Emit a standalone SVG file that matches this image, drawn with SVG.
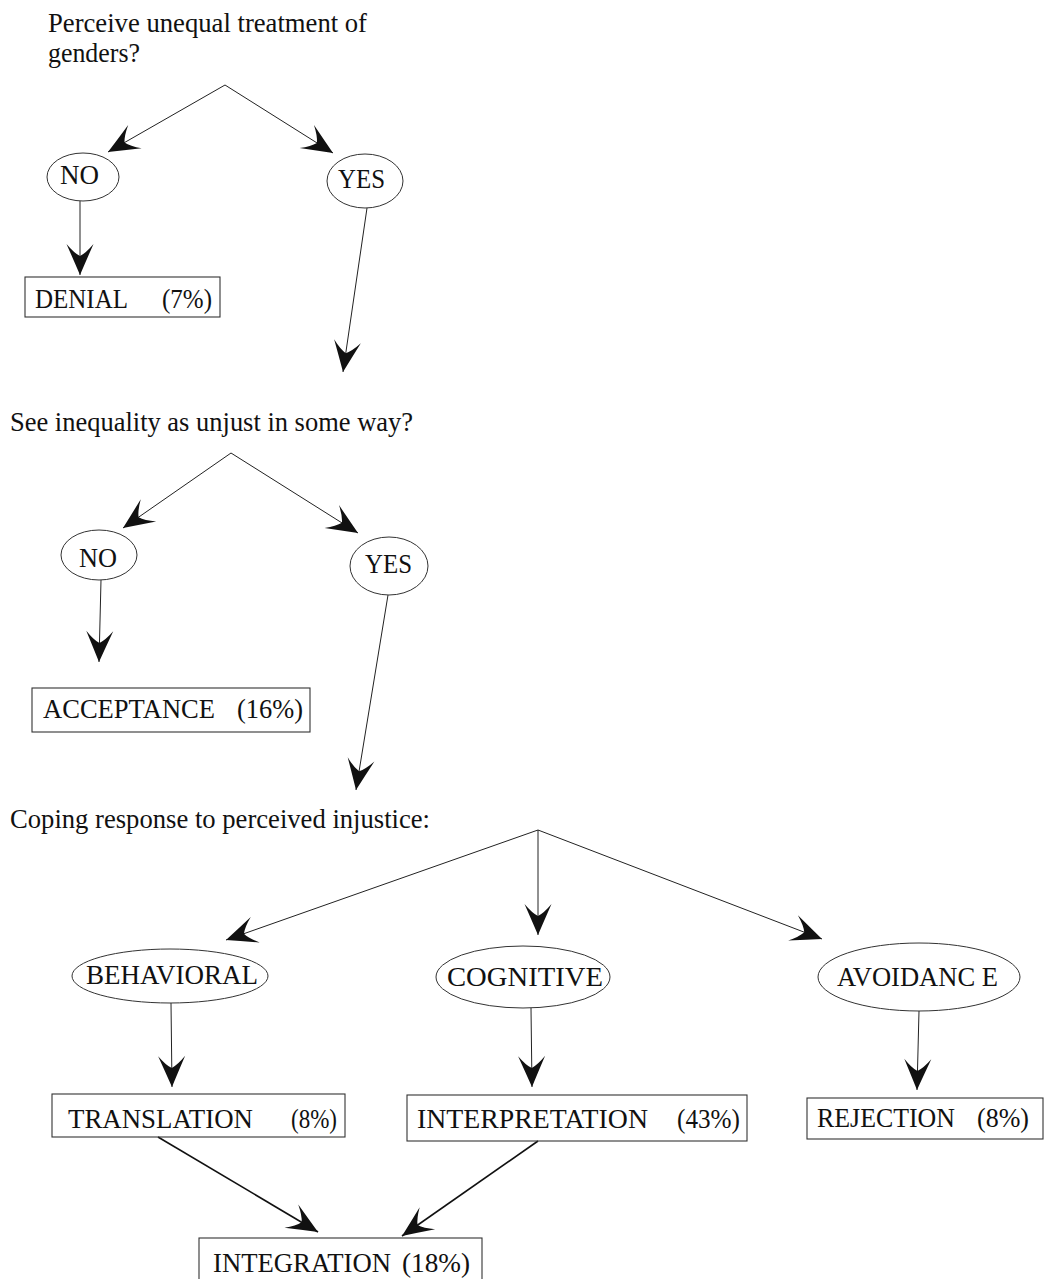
<svg xmlns="http://www.w3.org/2000/svg" width="1047" height="1279" viewBox="0 0 1047 1279">
<style>
text{font-family:"Liberation Serif","Times New Roman",serif;fill:#111;}
.t{font-size:26.5px;}
.n{font-size:27px;}
.el{fill:none;stroke:#333;stroke-width:1;}
.bx{fill:none;stroke:#333;stroke-width:1.1;}
.c{stroke:#222;stroke-width:1;fill:none;marker-end:url(#ah);}
.c2{stroke:#111;stroke-width:1.6;fill:none;marker-end:url(#ah);}
</style>
<defs>
<marker id="ah" markerUnits="userSpaceOnUse" viewBox="-33 -15 35 30" markerWidth="35" markerHeight="30" refX="0" refY="0" orient="auto" overflow="visible">
<path d="M0,0 Q-14,-6 -31,-13.5 Q-22,-6 -19,0 Q-22,6 -31,13.5 Q-14,6 0,0 Z" fill="#111"/>
</marker>
</defs>
<rect width="1047" height="1279" fill="#fff"/>
<g id="questions">
<text class="t" x="48" y="32" textLength="319" lengthAdjust="spacingAndGlyphs">Perceive unequal treatment of</text>
<text class="t" x="48" y="62" textLength="92" lengthAdjust="spacingAndGlyphs">genders?</text>
<text class="t" x="10" y="431" textLength="403" lengthAdjust="spacingAndGlyphs">See inequality as unjust in some way?</text>
<text class="t" x="10" y="828" textLength="420" lengthAdjust="spacingAndGlyphs">Coping response to perceived injustice:</text>
</g>
<g id="connectors">
<line class="c" x1="225" y1="85" x2="108" y2="152"/>
<line class="c" x1="225" y1="85" x2="333" y2="153"/>
<line class="c" x1="80" y1="201" x2="80" y2="275"/>
<line class="c" x1="367" y1="208" x2="343" y2="372"/>
<line class="c" x1="231" y1="453" x2="123" y2="528"/>
<line class="c" x1="231" y1="453" x2="358" y2="533"/>
<line class="c" x1="101" y1="580" x2="99" y2="662"/>
<line class="c" x1="388" y1="595" x2="356" y2="790"/>
<line class="c" x1="538" y1="830" x2="226" y2="940"/>
<line class="c" x1="538" y1="830" x2="538" y2="935"/>
<line class="c" x1="538" y1="830" x2="822" y2="939"/>
<line class="c" x1="171" y1="1003" x2="172" y2="1087"/>
<line class="c" x1="531" y1="1008" x2="532" y2="1087"/>
<line class="c" x1="919" y1="1011" x2="917" y2="1090"/>
<line class="c2" x1="158" y1="1137" x2="318" y2="1232"/>
<line class="c2" x1="538" y1="1141" x2="402" y2="1236"/>
</g>
<g id="no1"><ellipse class="el" cx="83" cy="177" rx="36" ry="24"/><text class="n" x="60" y="184" textLength="39" lengthAdjust="spacingAndGlyphs">NO</text></g>
<g id="yes1"><ellipse class="el" cx="365" cy="181" rx="38" ry="27"/><text class="n" x="338" y="188" textLength="47" lengthAdjust="spacingAndGlyphs">YES</text></g>
<g id="denial"><rect class="bx" x="25" y="277" width="195" height="40"/><text class="n" x="35" y="308" textLength="93" lengthAdjust="spacingAndGlyphs">DENIAL</text><text class="n" x="162" y="308" textLength="50" lengthAdjust="spacingAndGlyphs">(7%)</text></g>
<g id="no2"><ellipse class="el" cx="99" cy="555" rx="38" ry="25"/><text class="n" x="79" y="567" textLength="38" lengthAdjust="spacingAndGlyphs">NO</text></g>
<g id="yes2"><ellipse class="el" cx="389" cy="566" rx="39" ry="29"/><text class="n" x="365" y="573" textLength="47" lengthAdjust="spacingAndGlyphs">YES</text></g>
<g id="acceptance"><rect class="bx" x="32" y="688" width="278" height="44"/><text class="n" x="43" y="718" textLength="172" lengthAdjust="spacingAndGlyphs">ACCEPTANCE</text><text class="n" x="237" y="718" textLength="66" lengthAdjust="spacingAndGlyphs">(16%)</text></g>
<g id="behavioral"><ellipse class="el" cx="170" cy="976" rx="98" ry="27"/><text class="n" x="86" y="984" textLength="172" lengthAdjust="spacingAndGlyphs">BEHAVIORAL</text></g>
<g id="cognitive"><ellipse class="el" cx="523" cy="977" rx="87" ry="31"/><text class="n" x="447" y="986" textLength="156" lengthAdjust="spacingAndGlyphs">COGNITIVE</text></g>
<g id="avoidance"><ellipse class="el" cx="919" cy="977" rx="101" ry="34"/><text class="n" x="837" y="986" textLength="161" lengthAdjust="spacingAndGlyphs">AVOIDANC E</text></g>
<g id="translation"><rect class="bx" x="52" y="1094" width="293" height="43"/><text class="n" x="68" y="1128" textLength="185" lengthAdjust="spacingAndGlyphs">TRANSLATION</text><text class="n" x="291" y="1128" textLength="46" lengthAdjust="spacingAndGlyphs">(8%)</text></g>
<g id="interpretation"><rect class="bx" x="407" y="1095" width="340" height="46"/><text class="n" x="417" y="1128" textLength="231" lengthAdjust="spacingAndGlyphs">INTERPRETATION</text><text class="n" x="677" y="1128" textLength="63" lengthAdjust="spacingAndGlyphs">(43%)</text></g>
<g id="rejection"><rect class="bx" x="807" y="1098" width="236" height="41"/><text class="n" x="817" y="1127" textLength="138" lengthAdjust="spacingAndGlyphs">REJECTION</text><text class="n" x="977" y="1127" textLength="52" lengthAdjust="spacingAndGlyphs">(8%)</text></g>
<g id="integration"><rect class="bx" x="199" y="1238" width="283" height="50"/><text class="n" x="213" y="1272" textLength="178" lengthAdjust="spacingAndGlyphs">INTEGRATION</text><text class="n" x="402" y="1272" textLength="68" lengthAdjust="spacingAndGlyphs">(18%)</text></g>
</svg>
